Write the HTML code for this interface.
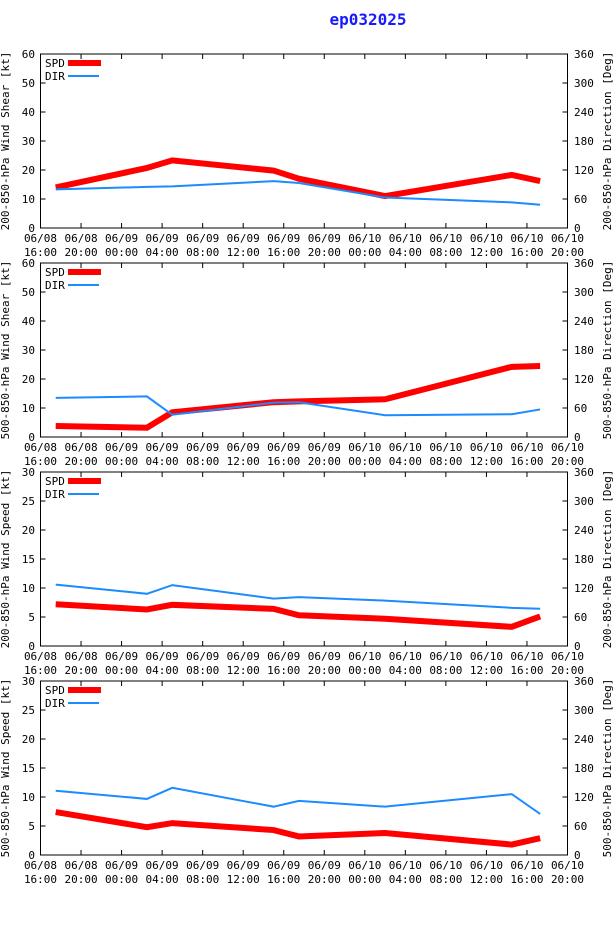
<!DOCTYPE html>
<html><head><meta charset="utf-8"><style>
body{margin:0;background:#fff;}
svg text{font-family:"DejaVu Sans Mono","Liberation Mono",monospace;font-size:11px;fill:#000;}
</style></head><body>
<svg id="chart" width="614" height="936" xmlns="http://www.w3.org/2000/svg">
<text x="368" y="25" text-anchor="middle" style="font-size:16px;font-weight:bold;fill:#1a1aff">ep032025</text>
</svg>
<script>
const hours = [1.5, 10.5, 13, 23, 25.5, 34, 46.5, 49.3];
const xTickDates = ["06/08","06/08","06/09","06/09","06/09","06/09","06/09","06/09","06/10","06/10","06/10","06/10","06/10","06/10"];
const xTickTimes = ["16:00","20:00","00:00","04:00","08:00","12:00","16:00","20:00","00:00","04:00","08:00","12:00","16:00","20:00"];
const rightTicks = [0,60,120,180,240,300,360];
const spd1 = [14, 20.7, 23.3, 19.8, 17, 11, 18.3, 16.2];
const dir1 = [80, 85, 86, 97, 93, 63, 53, 48];
const spd2 = [3.8, 3.2, 8.5, 12, 12.3, 13, 24.2, 24.5];
const dir2 = [81, 84, 46, 71, 72, 45, 47, 57];
const spd3 = [7.2, 6.3, 7.1, 6.4, 5.3, 4.7, 3.3, 5.1];
const dir3 = [127, 108, 126, 98, 101, 94, 79, 77];
const spd4 = [7.4, 4.8, 5.5, 4.3, 3.2, 3.8, 1.8, 2.9];
const dir4 = [133, 116, 139, 100, 112, 100, 126, 85];
const panels = [
 {top:54, max:60, step:10, spd:spd1, dir:dir1, ll:"200-850-hPa Wind Shear [kt]", rl:"200-850-hPa Direction [Deg]"},
 {top:263, max:60, step:10, spd:spd2, dir:dir2, ll:"500-850-hPa Wind Shear [kt]", rl:"500-850-hPa Direction [Deg]"},
 {top:472, max:30, step:5, spd:spd3, dir:dir3, ll:"200-850-hPa Wind Speed [kt]", rl:"200-850-hPa Direction [Deg]"},
 {top:681, max:30, step:5, spd:spd4, dir:dir4, ll:"500-850-hPa Wind Speed [kt]", rl:"500-850-hPa Direction [Deg]"}
];
const svg = document.getElementById('chart');
const NS = "http://www.w3.org/2000/svg";
const L = 40.5, R = 567.5, H = 174, SPAN = 52;
function mk(tag, at, parent){const e=document.createElementNS(NS,tag);for(const k in at)e.setAttribute(k,at[k]);(parent||svg).appendChild(e);return e;}
const xs = h => L + (h/SPAN)*(R-L);
panels.forEach((p,i)=>{
  const g = mk('g',{});
  
  
  const B = p.top + H;
  const yl = v => B - v/p.max*H;
  const yr = v => B - v/360*H;
  const frame = mk('rect',{x:L,y:p.top,width:R-L,height:H,fill:'none',stroke:'#000','stroke-width':1},g);
  
  
  for(let v=0; v<=p.max; v+=p.step){
    const y=yl(v);
    mk('line',{x1:L,x2:L+5,y1:y,y2:y,stroke:'#000'},g);
    const t=mk('text',{x:35,y:y+4,'text-anchor':'end'},g); t.textContent=v;
    
    
  }
  rightTicks.forEach(v=>{
    const y=yr(v);
    mk('line',{x1:R-5,x2:R,y1:y,y2:y,stroke:'#000'},g);
    const t=mk('text',{x:574,y:y+4},g); t.textContent=v;
    
    
  });
  xTickDates.forEach((d,k)=>{
    const x=xs(k*4);
    mk('line',{x1:x,x2:x,y1:B,y2:B-5,stroke:'#000'},g);
    mk('line',{x1:x,x2:x,y1:p.top,y2:p.top+5,stroke:'#000'},g);
    const t=mk('text',{x:x,y:B+14,'text-anchor':'middle'},g); t.textContent=d;
    
    
    const t2=mk('text',{x:x,y:B+28,'text-anchor':'middle'},g); t2.textContent=xTickTimes[k];
    
    
  });
  const cy = p.top+H/2;
  const a=mk('text',{x:0,y:0,'text-anchor':'middle',transform:`translate(9,${cy}) rotate(-90)`},g); a.textContent=p.ll;
  
  
  const b=mk('text',{x:0,y:0,'text-anchor':'middle',transform:`translate(611,${cy}) rotate(-90)`},g); b.textContent=p.rl;
  
  
  const sp=mk('polyline',{points:p.spd.map((v,k)=>xs(hours[k])+','+yl(v)).join(' '),fill:'none',stroke:'#ff0000','stroke-width':6},g);
  
  
  const dr=mk('polyline',{points:p.dir.map((v,k)=>xs(hours[k])+','+yr(v)).join(' '),fill:'none',stroke:'#1a8cff','stroke-width':2},g);
  
  
  const s1=mk('text',{x:45,y:p.top+13},g); s1.textContent='SPD';
  
  
  mk('line',{x1:68,x2:101,y1:p.top+9,y2:p.top+9,stroke:'#ff0000','stroke-width':6},g);
  const s2=mk('text',{x:45,y:p.top+26},g); s2.textContent='DIR';
  
  
  mk('line',{x1:68,x2:99,y1:p.top+22,y2:p.top+22,stroke:'#1a8cff','stroke-width':2},g);
});
</script>
</body></html>
